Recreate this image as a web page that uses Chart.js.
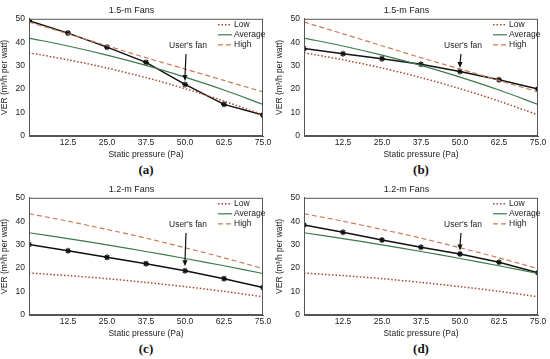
<!DOCTYPE html>
<html>
<head>
<meta charset="utf-8">
<script src="https://cdn.jsdelivr.net/npm/chart.js@4.4.1/dist/chart.umd.min.js"></script>
<style>
body { margin: 0; background: #fff; width: 550px; height: 359px; overflow: hidden; }
.panel { position: absolute; width: 275px; height: 180px; }
.panel canvas { position: absolute; left: 0; top: 0; }
.tag { position: absolute; top: 162px; left: 126px; width: 40px; text-align: center;
       font: bold 13px "Liberation Serif", "DejaVu Serif", serif; color: #111; }
</style>
</head>
<body>
<div class="panel" style="left:0;top:0"><canvas id="fanA" width="275" height="160"></canvas><div class="tag">(a)</div></div>
<div class="panel" style="left:275px;top:0"><canvas id="fanB" width="275" height="160"></canvas><div class="tag">(b)</div></div>
<div class="panel" style="left:0;top:179px"><canvas id="fanC" width="275" height="160"></canvas><div class="tag">(c)</div></div>
<div class="panel" style="left:275px;top:179px"><canvas id="fanD" width="275" height="160"></canvas><div class="tag">(d)</div></div>
<script>
var pressures = [0, 12.5, 25, 37.5, 50, 62.5, 75];

// reference curves, 1.5-m fans
var low15 = [35.5, 32.5, 29.0, 24.9, 20.2, 14.9, 9.0];
var avg15 = [41.8, 38.4, 34.5, 30.1, 25.1, 19.6, 13.5];
var high15 = [48.6, 43.6, 38.5, 33.4, 28.6, 23.7, 18.8];
// reference curves, 1.2-m fans
var low12 = [17.9, 16.8, 15.5, 13.9, 12.1, 10.1, 7.8];
var avg12 = [35.1, 32.6, 29.9, 27.1, 24.1, 21.0, 17.7];
var high12 = [43.2, 40.0, 36.5, 32.8, 28.7, 24.4, 19.8];
// the user's fans
var userA = [49.2, 43.9, 37.9, 31.4, 22.0, 13.5, 8.9];
var userB = [37.3, 35.1, 33.0, 30.6, 27.5, 24.0, 20.0];
var userC = [30.1, 27.4, 24.6, 21.9, 18.9, 15.5, 11.7];
var userD = [38.4, 35.3, 32.0, 28.9, 26.0, 22.5, 18.0];
// where the "User's fan" arrow points (VER at 50 Pa)
var arrowTips = [23.5, 29.0, 20.8, 27.5];
var arrowStart = 35;

var yTicks = [0, 10, 20, 30, 40, 50];
var xTicks = [0, 12.5, 25, 37.5, 50, 62.5, 75];

var fontName = '"Liberation Sans", Arial, sans-serif';
var lowColor = '#a34a2c';
var avgColor = '#3d7a4a';
var highColor = '#c97a58';

function pts(values) {
    return values.map(function (v, i) { return { x: pressures[i], y: v }; });
}

var fanDecor = {
    id: 'fanDecor',
    afterDatasetsDraw: function (chart, args, opts) {
        var ctx = chart.ctx;
        var area = chart.chartArea;
        var xs = chart.scales.x, ys = chart.scales.y;
        ctx.save();
        // frame
        ctx.strokeStyle = '#555';
        ctx.lineWidth = 1;
        ctx.strokeRect(area.left + 0.5, area.top + 0.5, area.right - area.left - 1, area.bottom - area.top - 1);
        // legend
        ctx.font = '8.5px ' + fontName;
        ctx.textBaseline = 'middle';
        ctx.textAlign = 'left';
        chart.data.datasets.slice(0, 3).forEach(function (ds, i) {
            var y = area.top + 6 + i * 10;
            ctx.beginPath();
            ctx.strokeStyle = ds.borderColor;
            ctx.lineWidth = ds.borderWidth;
            ctx.setLineDash(ds.borderDash || []);
            ctx.moveTo(area.right - 45, y);
            ctx.lineTo(area.right - 31, y);
            ctx.stroke();
            ctx.setLineDash([]);
            ctx.fillStyle = '#222';
            ctx.fillText(ds.label, area.right - 29, y);
        });
        // user's fan arrow
        var ax = xs.getPixelForValue(50);
        var y0 = ys.getPixelForValue(arrowStart);
        var y1 = ys.getPixelForValue(opts.tip);
        ctx.strokeStyle = '#111';
        ctx.fillStyle = '#111';
        ctx.lineWidth = 1.2;
        ctx.beginPath();
        ctx.moveTo(ax + 1, y0);
        ctx.lineTo(ax, y1 - 5);
        ctx.stroke();
        ctx.beginPath();
        ctx.moveTo(ax, y1);
        ctx.lineTo(ax - 2.5, y1 - 6);
        ctx.lineTo(ax + 2.5, y1 - 6);
        ctx.closePath();
        ctx.fill();
        ctx.textAlign = 'center';
        ctx.fillStyle = '#222';
        ctx.fillText("User's fan", ax + 3, y0 - 8);
        ctx.restore();
    }
};

function fanChart(id, title, low, avg, high, user, tip) {
    var ctx = document.getElementById(id).getContext('2d');
    new Chart(ctx, {
        type: 'line',
        data: {
            datasets: [{
                label: 'Low',
                data: pts(low),
                borderColor: lowColor,
                borderWidth: 1.5,
                borderDash: [1.5, 2],
                pointRadius: 0,
                tension: 0.3
            }, {
                label: 'Average',
                data: pts(avg),
                borderColor: avgColor,
                borderWidth: 1.2,
                pointRadius: 0,
                tension: 0.3
            }, {
                label: 'High',
                data: pts(high),
                borderColor: highColor,
                borderWidth: 1.2,
                borderDash: [5, 3],
                pointRadius: 0,
                tension: 0.3
            }, {
                label: "User's fan",
                data: pts(user),
                borderColor: '#111',
                backgroundColor: '#111',
                borderWidth: 1.5,
                pointStyle: 'star',
                pointRadius: 3,
                pointBorderWidth: 1.2,
                tension: 0
            }]
        },
        options: {
            responsive: false,
            animation: false,
            layout: { padding: { right: 12, left: 0, bottom: 0 } },
            plugins: {
                legend: { display: false },
                tooltip: { enabled: false },
                title: {
                    display: true,
                    text: title,
                    color: '#222',
                    font: { family: fontName, size: 9, weight: 'normal' },
                    padding: { top: 5, bottom: 3 }
                },
                fanDecor: { tip: tip }
            },
            scales: {
                x: {
                    type: 'linear',
                    min: 0,
                    max: 75,
                    afterBuildTicks: function (s) { s.ticks = xTicks.map(function (v) { return { value: v }; }); },
                    afterFit: function (s) { s.height = 24; },
                    grid: { display: false, drawTicks: false, tickLength: 0 },
                    border: { color: '#555' },
                    ticks: {
                        color: '#222',
                        padding: 2,
                        font: { family: fontName, size: 8.5 },
                        maxRotation: 0,
                        callback: function (v) { return v === 0 ? '' : v.toFixed(1); }
                    },
                    title: {
                        display: true,
                        text: 'Static pressure (Pa)',
                        color: '#222',
                        font: { family: fontName, size: 8.5 },
                        padding: 0
                    }
                },
                y: {
                    min: 0,
                    max: 50,
                    afterBuildTicks: function (s) { s.ticks = yTicks.map(function (v) { return { value: v }; }); },
                    afterFit: function (s) { s.width = 29; },
                    grid: { display: false, drawTicks: false, tickLength: 0 },
                    border: { color: '#555' },
                    ticks: {
                        color: '#222',
                        padding: 4,
                        font: { family: fontName, size: 8.5 }
                    },
                    title: {
                        display: true,
                        text: 'VER (m³/h per watt)',
                        color: '#222',
                        font: { family: fontName, size: 8.5 },
                        padding: 0
                    }
                }
            }
        },
        plugins: [fanDecor]
    });
}

fanChart('fanA', '1.5-m Fans', low15, avg15, high15, userA, arrowTips[0]);
fanChart('fanB', '1.5-m Fans', low15, avg15, high15, userB, arrowTips[1]);
fanChart('fanC', '1.2-m Fans', low12, avg12, high12, userC, arrowTips[2]);
fanChart('fanD', '1.2-m Fans', low12, avg12, high12, userD, arrowTips[3]);
</script>
</body>
</html>
